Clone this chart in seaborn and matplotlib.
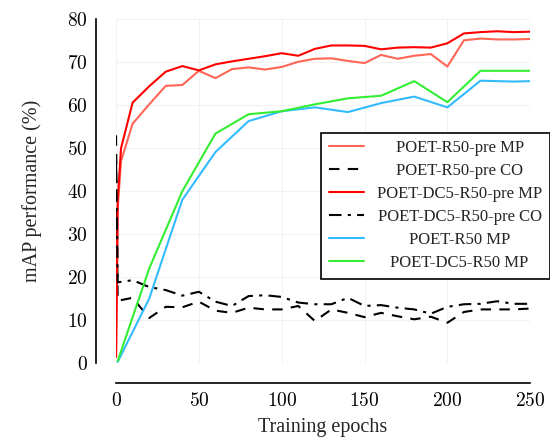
import pandas as pd
import seaborn as sns
from matplotlib import pyplot as plt
from matplotlib.ticker import FuncFormatter

# readings
ep_pre = [0, 1, 3, 10, 20, 30, 40, 50, 60, 70, 80, 90, 100, 110, 120, 130, 140,
          150, 160, 170, 180, 190, 200, 210, 220, 230, 240, 250]
r50_pre_mp = [1.5, 36, 47, 55.7, 60.2, 64.5, 64.7, 68.0, 66.3, 68.4, 68.8, 68.3, 68.9,
              70.1, 70.8, 70.9, 70.3, 69.8, 71.7, 70.8, 71.5, 71.9, 69.0, 75.1,
              75.5, 75.3, 75.3, 75.4]
dc5_pre_mp = [1.5, 38, 50, 60.6, 64.4, 67.8, 69.1, 68.1, 69.5, 70.2, 70.8, 71.4, 72.1,
              71.5, 73.1, 73.9, 73.9, 73.8, 73.0, 73.4, 73.5, 73.4, 74.4, 76.7,
              77.0, 77.2, 77.0, 77.1]

ep_co = [0, 1, 10, 20, 30, 40, 50, 60, 70, 80, 90, 100, 110, 120, 130, 140, 150,
         160, 170, 180, 190, 200, 210, 220, 230, 240, 250]
r50_pre_co = [53, 14.5, 15.2, 10.5, 13.1, 13.0, 14.3, 12.2, 11.7, 12.9, 12.5, 12.5,
              13.3, 9.8, 12.5, 11.7, 10.7, 11.7, 10.9, 10.2, 10.8, 9.4, 11.9,
              12.5, 12.5, 12.5, 12.7]
dc5_pre_co = [47, 18.8, 19.3, 17.7, 17.0, 15.7, 16.6, 14.3, 13.3, 15.6, 15.8, 15.4,
              14.1, 13.7, 13.7, 15.2, 13.3, 13.5, 12.9, 12.5, 11.5, 13.1, 13.7,
              13.8, 14.4, 13.8, 13.8]

ep_scratch = [1, 20, 40, 60, 80, 100, 120, 140, 160, 180, 200, 220, 230, 240, 250]
r50_mp = [0.3, 15.0, 38.0, 49.1, 56.3, 58.6, 59.5, 58.4, 60.5, 62.0, 59.5, 65.7,
          65.6, 65.5, 65.6]
dc5_mp = [0.5, 22.0, 40.0, 53.4, 57.9, 58.6, 60.2, 61.6, 62.2, 65.6, 60.7, 68.0,
          68.0, 68.0, 68.0]

series = [
    ("POET-R50-pre MP", ep_pre, r50_pre_mp, "#ff6655", "-"),
    ("POET-R50-pre CO", ep_co, r50_pre_co, "black", (0, (5, 4))),
    ("POET-DC5-R50-pre MP", ep_pre, dc5_pre_mp, "#ff0000", "-"),
    ("POET-DC5-R50-pre CO", ep_co, dc5_pre_co, "black", (0, (6, 3, 1.5, 3))),
    ("POET-R50 MP", ep_scratch, r50_mp, "#33bbff", "-"),
    ("POET-DC5-R50 MP", ep_scratch, dc5_mp, "#33ee33", "-"),
]

sns.set_style("whitegrid", {"grid.color": "#f2f2f2", "axes.edgecolor": "black"})
plt.rcParams["font.family"] = ["Liberation Serif", "DejaVu Serif"]
plt.rcParams["mathtext.fontset"] = "cm"

fig = plt.figure(figsize=(5.5, 4.37), dpi=100)
ax = fig.add_axes([0.211, 0.169, 0.753, 0.787])

for name, x, y, c, ls in series:
    df = pd.DataFrame({"epoch": x, "mAP": y})
    sns.lineplot(data=df, x="epoch", y="mAP", ax=ax, color=c, linestyle=ls,
                 linewidth=1.5, label=name, sort=False)

ax.set_xlim(0, 250)
ax.set_ylim(0, 80)
ax.set_xticks(range(0, 251, 50))
ax.set_yticks(range(0, 81, 10))
fmt = FuncFormatter(lambda v, p: f"${v:g}$")
ax.xaxis.set_major_formatter(fmt)
ax.yaxis.set_major_formatter(fmt)
ax.tick_params(direction="in", length=6, width=1.2, labelsize=14, colors="black", pad=6)
ax.set_xlabel("Training epochs", fontsize=14.5, labelpad=6)
ax.set_ylabel("mAP performance (%)", fontsize=14.5, labelpad=18)

sns.despine(ax=ax, offset=14.5)
for s in ["left", "bottom"]:
    ax.spines[s].set_linewidth(1.2)
    ax.spines[s].set_color("black")

leg = ax.legend(loc="upper right", bbox_to_anchor=(1.047, 0.67), fontsize=12,
                frameon=True, fancybox=False, edgecolor="black", framealpha=1,
                handlelength=2.1, labelspacing=0.42, borderpad=0.45,
                borderaxespad=0)
leg.get_frame().set_linewidth(1.2)

# centre the legend texts in their column
fig.canvas.draw()
r = fig.canvas.get_renderer()
widths = [t.get_window_extent(r).width for t in leg.get_texts()]
wmax = max(widths)
for t, w in zip(leg.get_texts(), widths):
    t.set_x((wmax - w) / 2)

fig.savefig("out.png", dpi=100)
